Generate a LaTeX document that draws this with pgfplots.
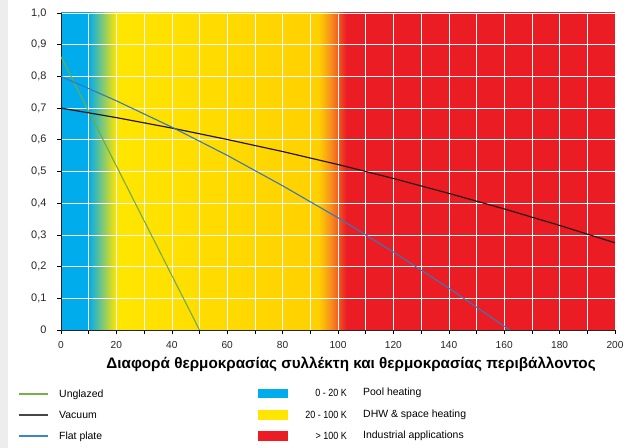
\documentclass[border=0pt]{standalone}
\usepackage{pgfplots}
\pgfplotsset{compat=1.18}
\usepackage{fontspec}
\setmainfont{Liberation Sans}
\definecolor{bandcyan}{RGB}{0,172,236}
\definecolor{bandyellow}{RGB}{255,230,0}
\definecolor{bandgold}{RGB}{255,208,0}
\definecolor{bandorange}{RGB}{246,140,30}
\definecolor{bandred}{RGB}{236,28,36}
\definecolor{cunglazed}{RGB}{112,172,70}
\definecolor{cvacuum}{RGB}{40,22,22}
\definecolor{cflat}{RGB}{55,120,185}
\definecolor{lgunglazed}{RGB}{120,176,80}
\definecolor{lgvacuum}{RGB}{70,70,70}
\definecolor{lgflat}{RGB}{60,133,198}
\pgfdeclarehorizontalshading{bands}{100bp}{color(0bp)=(bandcyan); color(27.5bp)=(bandcyan); color(30bp)=(bandyellow); color(48.25bp)=(bandgold); color(49.4bp)=(bandorange); color(50.75bp)=(bandred); color(100bp)=(bandred)}
\begin{document}
\begin{tikzpicture}
\path (-61bp,-118bp) rectangle (567bp,330bp);
\fill[black!7] (-61bp,-118bp) rectangle (-53bp,330bp);
\begin{axis}[
  at={(0,0)}, anchor=south west,
  scale only axis, width=554bp, height=317bp,
  set layers,
  xmin=0, xmax=200, ymin=0, ymax=1,
  axis x line=bottom, axis y line=left,
  axis line style={-, draw=black!85, line width=0.8pt},
  xtick={0,20,40,60,80,100,120,140,160,180,200},
  minor xtick={10,30,50,70,90,110,130,150,170,190},
  ytick={0,0.1,0.2,0.3,0.4,0.5,0.6,0.7,0.8,0.9,1},
  yticklabels={0,{0,1},{0,2},{0,3},{0,4},{0,5},{0,6},{0,7},{0,8},{0,9},{1,0}},
  /pgf/number format/assume math mode=true,
  grid=both,
  grid style={white, line width=0.6pt},
  minor grid style={white, line width=0.6pt},
  tick align=outside,
  major tick length=4bp, minor tick length=4bp,
  tick style={black, line width=0.6pt},
  every tick/.style={black, line width=0.6pt},
  xticklabel style={font=\fontsize{10.2}{12}\selectfont, text=black!85, yshift=-4bp},
  yticklabel style={font=\fontsize{11}{12}\selectfont, text=black!85, xshift=-7bp},
  xlabel={Διαφορά θερμοκρασίας συλλέκτη και θερμοκρασίας περιβάλλοντος},
  xlabel style={font=\fontsize{15.3}{17}\selectfont\bfseries, at={(axis description cs:0.5235,0)}, anchor=center, yshift=-34bp},
]
% background bands
\begin{pgfonlayer}{axis background}
\shade[shading=bands] (axis cs:0,0) rectangle (axis cs:200,1);
\end{pgfonlayer}
% series
\addplot[cunglazed, line width=1.1pt] coordinates {(0,0.862) (50,0)};
\addplot[cvacuum, line width=1.2pt] coordinates {(0,0.700) (20,0.670) (40,0.637) (60,0.601) (80,0.563) (100,0.522) (120,0.478) (140,0.431) (160,0.382) (180,0.330) (200,0.275)};
\addplot[cflat, line width=1.1pt] coordinates {(0,0.800) (20,0.723) (40,0.640) (60,0.551) (80,0.455) (100,0.354) (120,0.246) (140,0.132) (160,0.012) (162,0)};
\end{axis}
% legend
\begin{scope}[every node/.style={font=\fontsize{10.5}{12}\selectfont, inner sep=0pt, text height=1.6ex, text depth=0.4ex}]
\draw[lgunglazed, line width=1.1pt] (-42bp,-64bp) -- (-13bp,-64bp);
\draw[lgvacuum, line width=1.1pt] (-42bp,-85bp) -- (-13bp,-85bp);
\draw[lgflat, line width=1.1pt] (-42bp,-106bp) -- (-13bp,-106bp);
\node[anchor=west] at (-2bp,-64bp) {Unglazed};
\node[anchor=west] at (-2bp,-85bp) {Vacuum};
\node[anchor=west] at (-2bp,-106bp) {Flat plate};
\fill[bandcyan] (197bp,-59bp) rectangle (227bp,-68bp);
\fill[bandyellow] (197bp,-80bp) rectangle (227bp,-90bp);
\fill[bandred] (197bp,-101bp) rectangle (227bp,-111bp);
\node[anchor=east, xscale=0.86] at (286bp,-63bp) {0 - 20 K};
\node[anchor=east, xscale=0.86] at (286bp,-85bp) {20 - 100 K};
\node[anchor=east, xscale=0.86] at (286bp,-106bp) {> 100 K};
\node[anchor=west] at (302bp,-62bp) {Pool heating};
\node[anchor=west] at (302bp,-84bp) {DHW \& space heating};
\node[anchor=west] at (302bp,-105bp) {Industrial applications};
\end{scope}
\end{tikzpicture}
\end{document}
